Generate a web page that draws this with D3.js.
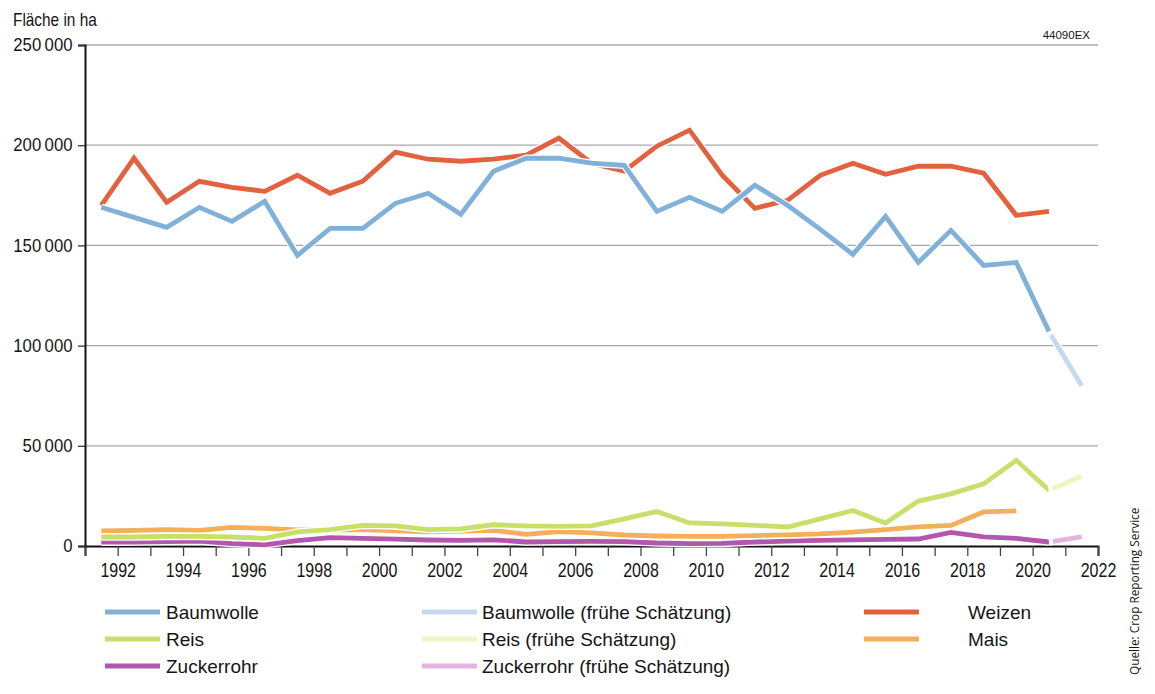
<!DOCTYPE html>
<html lang="de">
<head>
<meta charset="UTF-8">
<title>Fläche in ha</title>
<style>
  body { margin: 0; background: #fff; }
  text { font-family: "Liberation Sans", Arial, sans-serif; fill: #151515; }
</style>
</head>
<body>
<div id="chart"></div>
<script src="https://d3js.org/d3.v7.min.js"></script>
<script>
const WIDTH = 1155;
const HEIGHT = 694;

const years = d3.range(1991, 2021);       // 1991 ... 2020
const estimateYears = [2020, 2021];

const baumwolle = [169000, 164000, 159000, 169000, 162000, 172000, 145000, 158500, 158500, 171000,
                   176000, 165500, 187000, 193500, 193500, 191000, 190000, 167000, 174000, 167000,
                   180000, 170000, 158000, 145500, 164500, 141500, 157500, 140000, 141500, 107000];
const weizen = [170000, 193500, 171500, 182000, 179000, 177000, 185000, 176000, 182000, 196500,
                193000, 192000, 193000, 195000, 203500, 191000, 187000, 199500, 207500, 185000,
                168500, 172500, 185000, 191000, 185500, 189500, 189500, 186000, 165000, 167000];
const reis = [4500, 4500, 4800, 4800, 4500, 3800, 7000, 8200, 10300, 10000,
              8200, 8500, 10600, 10000, 9800, 10000, 13500, 17200, 11500, 11000,
              10300, 9500, 13500, 17700, 11500, 22400, 26000, 31000, 42800, 27800];
const mais = [7500, 7800, 8200, 7800, 9300, 8800, 8000, 8000, 8200, 7600,
              7000, 7400, 7800, 5800, 7200, 6500, 5500, 5000, 4800, 4800,
              5200, 5600, 6000, 6900, 8200, 9500, 10300, 17000, 17500];
const zuckerrohr = [1900, 2000, 2200, 2400, 1200, 600, 2700, 4200, 3800, 3400,
                    3000, 2800, 3100, 2000, 2200, 2300, 2200, 1500, 1200, 1300,
                    2000, 2400, 2800, 3100, 3300, 3500, 6800, 4500, 3800, 2000];

const baumwolleEstimate = [107000, 80000];
const reisEstimate = [27800, 34800];
const zuckerrohrEstimate = [2000, 4500];

const yTicks = [0, 50000, 100000, 150000, 200000, 250000];
const xTicks = d3.range(1991, 2023);

const svg = d3.select("#chart").append("svg")
  .attr("width", WIDTH)
  .attr("height", HEIGHT);

const x = d3.scaleLinear().domain([1991, 2022]).range([85, 1098]);
const y = d3.scaleLinear().domain([0, 250000]).range([546, 45]);

// gridlines
svg.append("g")
  .selectAll("line")
  .data(yTicks.slice(1))
  .join("line")
  .attr("x1", x(1991)).attr("x2", x(2022))
  .attr("y1", d => y(d)).attr("y2", d => y(d))
  .attr("stroke", "#a8a8a8")
  .attr("stroke-width", 1.3);

// y axis (condensed labels via scaleX)
const fmt = d3.format(",");
const yAxis = svg.append("g")
  .attr("transform", `translate(${x(1991)},0)`)
  .call(d3.axisLeft(y).tickValues(yTicks).tickSize(7).tickPadding(5)
    .tickFormat(d => fmt(d).replace(/,/g, "\u2009")));
yAxis.select(".domain").attr("stroke", "#111").attr("stroke-width", 2);
yAxis.selectAll(".tick line").attr("stroke", "#333").attr("stroke-width", 1.3);
yAxis.selectAll(".tick text")
  .attr("font-size", 18)
  .attr("x", -12.5 / 0.93)
  .attr("transform", "scale(0.93,1)")
  .style("font-family", "'Liberation Sans', Arial, sans-serif")
  .attr("fill", "#151515");

// x axis
const xAxis = svg.append("g")
  .attr("transform", `translate(0,${y(0)})`)
  .call(d3.axisBottom(x).tickValues(xTicks).tickSize(10).tickPadding(7)
    .tickFormat(d => d % 2 === 0 ? d : ""));
xAxis.select(".domain").attr("stroke", "#111").attr("stroke-width", 2);
xAxis.selectAll(".tick line").attr("stroke", "#444").attr("stroke-width", 1.3);
xAxis.selectAll(".tick text")
  .attr("font-size", 20)
  .attr("transform", "scale(0.8,1)")
  .style("font-family", "'Liberation Sans', Arial, sans-serif")
  .attr("fill", "#151515");

// lines
const line = d3.line()
  .x(d => x(d[0] + 0.5))
  .y(d => y(d[1]));

const series = [
  { values: zuckerrohr, yrs: years, color: "#b157ad" },
  { values: mais, yrs: years, color: "#f2b05c" },
  { values: reis, yrs: years, color: "#c8e06a" },
  { values: weizen, yrs: years, color: "#e2613f" },
  { values: baumwolle, yrs: years, color: "#80b1d9" },
  { values: zuckerrohrEstimate, yrs: estimateYears, color: "#e4b4e0", est: true },
  { values: reisEstimate, yrs: estimateYears, color: "#ebf6c4", est: true },
  { values: baumwolleEstimate, yrs: estimateYears, color: "#c5d9ef", est: true }
];

series.forEach(s => {
  const pts = s.values.map((v, i) => [s.yrs[i], v]);
  svg.append("path")
    .attr("d", line(pts))
    .attr("fill", "none")
    .attr("stroke", "#fff")
    .attr("stroke-width", 7.5)
    .attr("stroke-linejoin", "miter");
  svg.append("path")
    .attr("d", line(pts))
    .attr("fill", "none")
    .attr("stroke", s.color)
    .attr("stroke-width", 4.8)
    .attr("stroke-linejoin", "miter")
    .attr("stroke-dasharray", s.est ? "0,4,2000" : null);
});

// title and notes
svg.append("text")
  .attr("transform", "translate(13,26) scale(0.88,1)")
  .attr("font-size", 17.5)
  .text("Fläche in ha");

svg.append("text")
  .attr("x", 1090).attr("y", 39)
  .attr("text-anchor", "end")
  .attr("font-size", 11.5)
  .text("44090EX");

svg.append("text")
  .attr("transform", "translate(1139,675) rotate(-90)")
  .attr("font-size", 11.8)
  .style("font-family", "'Open Sans', 'Liberation Sans', sans-serif")
  .attr("fill", "#333")
  .text("Quelle: Crop Reporting Service");

// legend
const legendNames = ["Baumwolle", "Baumwolle (frühe Schätzung)", "Weizen",
                     "Reis", "Reis (frühe Schätzung)", "Mais",
                     "Zuckerrohr", "Zuckerrohr (frühe Schätzung)"];
const legendColors = ["#80b1d9", "#c5d9ef", "#e2613f",
                      "#c8e06a", "#ebf6c4", "#f2b05c",
                      "#b157ad", "#e4b4e0"];
const colSwatch = [105, 422, 864];
const colText = [166, 482, 968];
const rowY = [612, 639, 666];

const legend = svg.append("g")
  .selectAll("g")
  .data(legendNames)
  .join("g")
  .attr("transform", (d, i) => `translate(0,${rowY[Math.floor(i / 3)]})`);

legend.append("line")
  .attr("x1", (d, i) => colSwatch[i % 3])
  .attr("x2", (d, i) => colSwatch[i % 3] + 55)
  .attr("stroke", (d, i) => legendColors[i])
  .attr("stroke-width", 5);

legend.append("text")
  .attr("x", (d, i) => colText[i % 3])
  .attr("dy", "0.35em")
  .attr("font-size", 19)
  .text(d => d);
</script>
</body>
</html>
